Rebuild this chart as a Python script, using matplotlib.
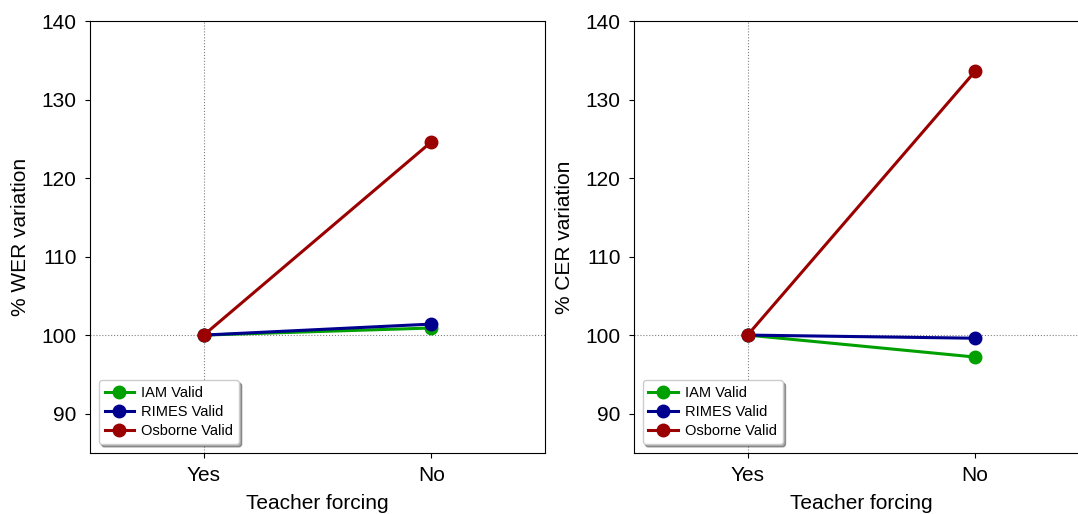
import numpy as np
import matplotlib.pyplot as plt

plt.rcParams['font.family'] = ['Liberation Sans', 'DejaVu Sans']

conditions = ['Yes', 'No']
series_names = ['IAM Valid', 'RIMES Valid', 'Osborne Valid']
series_colors = ['#00a000', '#00008f', '#9b0000']

wer = {
    'IAM Valid': [100.0, 100.9],
    'RIMES Valid': [100.0, 101.4],
    'Osborne Valid': [100.0, 124.6],
}
cer = {
    'IAM Valid': [100.0, 97.2],
    'RIMES Valid': [100.0, 99.6],
    'Osborne Valid': [100.0, 133.6],
}


def draw(ax, data, ylabel):
    x = np.arange(len(conditions))
    ax.axvline(0, color='gray', linestyle=':', linewidth=0.8, zorder=0)
    ax.axhline(100, color='gray', linestyle=':', linewidth=0.8, zorder=0)
    for name, color in zip(series_names, series_colors):
        ax.plot(x, data[name], '-o', color=color, linewidth=2.2, markersize=9, label=name)
    ax.set_xlim(-0.5, 1.5)
    ax.set_ylim(85, 140)
    ax.set_yticks([90, 100, 110, 120, 130, 140])
    ax.set_xticks(x)
    ax.set_xticklabels(conditions)
    ax.tick_params(labelsize=15, length=3.6, pad=6)
    ax.set_xlabel('Teacher forcing', fontsize=15, labelpad=6)
    ax.set_ylabel(ylabel, fontsize=15, labelpad=8)
    ax.legend(loc='lower left', fontsize=10.5, shadow=True, fancybox=True, framealpha=1,
              labelspacing=0.35, handletextpad=0.5, borderaxespad=0.6)


fig = plt.figure(figsize=(10.78, 5.14), dpi=100)
ax1 = fig.add_axes([0.0835, 0.119, 0.4221, 0.840])
ax2 = fig.add_axes([0.588, 0.119, 0.4221, 0.840])

draw(ax1, wer, '% WER variation')
draw(ax2, cer, '% CER variation')

fig.savefig('out.png', dpi=100)
